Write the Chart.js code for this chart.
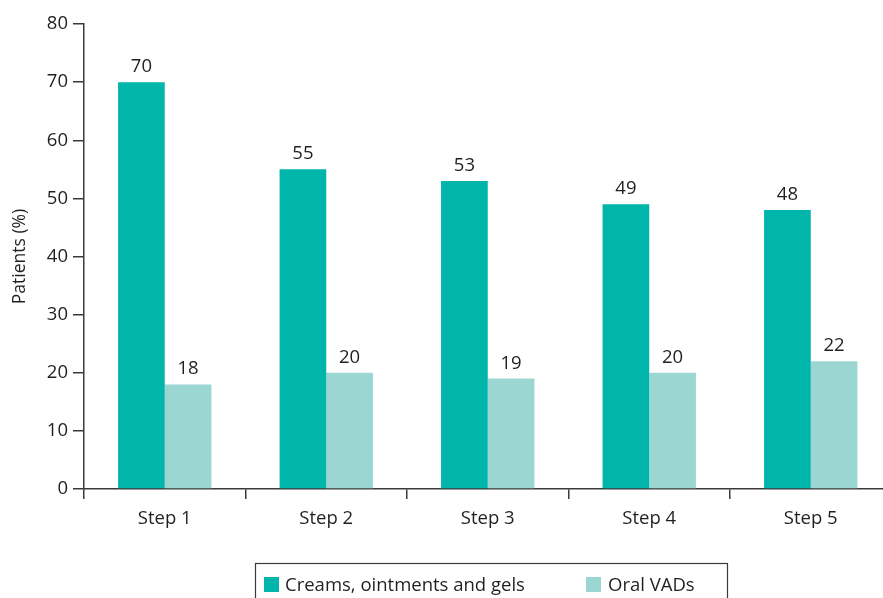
<!DOCTYPE html>
<html><head><meta charset="utf-8">
<script src="https://cdn.jsdelivr.net/npm/chart.js@4.4.0/dist/chart.umd.min.js"></script>
<style>
html,body{margin:0;padding:0;background:#fff;overflow:hidden;}
#wrap{position:relative;width:900px;height:598px;}
</style></head>
<body>
<div id="wrap"><canvas id="c" width="900" height="598"></canvas></div>
<script>
const categories = ["Step 1","Step 2","Step 3","Step 4","Step 5"];
const creams = [70,55,53,49,48];
const oral = [18,20,19,20,22];
const seriesNames = ["Creams, ointments and gels","Oral VADs"];
const yTicks = [0,10,20,30,40,50,60,70,80];

const FONT = "'Open Sans', 'Liberation Sans', sans-serif";
const FS = 18.5;
const TXT = '#231f20';
const AX = '#3a3a3a';

const valueLabels = {
  id:'valueLabels',
  afterDatasetsDraw(chart){
    const ctx = chart.ctx;
    ctx.save();
    ctx.font = FS + 'px ' + FONT;
    ctx.fillStyle = TXT;
    ctx.textAlign = 'center';
    ctx.textBaseline = 'bottom';
    chart.data.datasets.forEach((ds,i)=>{
      chart.getDatasetMeta(i).data.forEach((bar,j)=>{
        ctx.fillText(String(ds.data[j]), bar.x, bar.y - 6);
      });
    });
    ctx.restore();
  }
};

const boxLegend = {
  id:'boxLegend',
  afterDraw(chart){
    const ctx = chart.ctx;
    ctx.save();
    ctx.strokeStyle = AX; ctx.lineWidth = 1.2;
    ctx.strokeRect(255.5, 563.5, 472, 60);
    const pos = [[264,285],[586,608]];
    ctx.font = FS + 'px ' + FONT;
    ctx.textBaseline = 'alphabetic';
    ctx.textAlign = 'left';
    chart.data.datasets.forEach((ds,i)=>{
      ctx.fillStyle = ds.backgroundColor;
      ctx.fillRect(pos[i][0], 577, 15, 15);
      ctx.fillStyle = TXT;
      ctx.fillText(ds.label, pos[i][1], 591);
    });
    ctx.restore();
  }
};

new Chart(document.getElementById('c'), {
  type:'bar',
  data:{
    labels: categories,
    datasets:[
      {label: seriesNames[0], data: creams, backgroundColor:'#00b5aa', categoryPercentage:0.578, barPercentage:1.0},
      {label: seriesNames[1], data: oral, backgroundColor:'#9bd6d3', categoryPercentage:0.578, barPercentage:1.0}
    ]
  },
  options:{
    responsive:false,
    animation:false,
    devicePixelRatio:1,
    layout:{padding:{top:24,right:8.5,left:0,bottom:0}},
    plugins:{legend:{display:false},tooltip:{enabled:false}},
    scales:{
      x:{
        grid:{display:true, offset:true, drawOnChartArea:false, drawTicks:true, tickLength:10, color:AX, lineWidth:1.5},
        border:{display:true, color:AX, width:1.5},
        ticks:{color:TXT, font:{family:FONT,size:FS}, padding:9},
        afterFit(s){ s.height = 109; }
      },
      y:{
        min:0, max:80,
        afterBuildTicks(s){ s.ticks = yTicks.map(v=>({value:v})); },
        grid:{display:true, drawOnChartArea:false, drawTicks:true, tickLength:11, color:AX, lineWidth:1.5},
        border:{display:true, color:AX, width:1.5},
        ticks:{color:TXT, font:{family:FONT,size:FS}, padding:5},
        title:{display:true, text:'Patients (%)', color:TXT, font:{family:FONT,size:17.5}, padding:{top:10,bottom:0}},
        afterFit(s){ s.width = 84; }
      }
    }
  },
  plugins:[valueLabels, boxLegend]
});
</script>
</body></html>
